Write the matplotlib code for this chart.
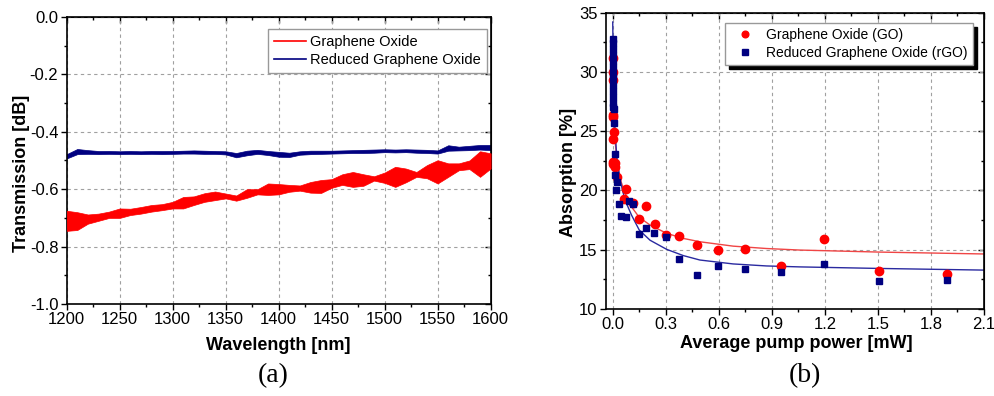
import numpy as np
import matplotlib.pyplot as plt
from matplotlib.ticker import MultipleLocator, FormatStrFormatter
from matplotlib.lines import Line2D

plt.rcParams['font.family'] = ['Liberation Sans', 'DejaVu Sans']

# ---- (a) transmission spectra, read every 10 nm as lower / upper edge of the noisy trace
wavelength = np.arange(1200, 1601, 10)
go_lo = [-0.745, -0.742, -0.720, -0.710, -0.700, -0.700, -0.690, -0.685, -0.678, -0.673,
         -0.667, -0.667, -0.655, -0.644, -0.638, -0.632, -0.640, -0.630, -0.618, -0.620,
         -0.618, -0.609, -0.605, -0.612, -0.613, -0.595, -0.585, -0.592, -0.588, -0.570,
         -0.578, -0.592, -0.576, -0.557, -0.562, -0.580, -0.557, -0.534, -0.530, -0.557,
         -0.528]
go_hi = [-0.675, -0.680, -0.688, -0.685, -0.678, -0.667, -0.668, -0.662, -0.655, -0.652,
         -0.644, -0.627, -0.625, -0.614, -0.608, -0.615, -0.622, -0.600, -0.600, -0.580,
         -0.582, -0.585, -0.587, -0.575, -0.568, -0.565, -0.548, -0.540, -0.548, -0.555,
         -0.542, -0.522, -0.528, -0.540, -0.516, -0.499, -0.510, -0.510, -0.500, -0.468,
         -0.475]
rgo_lo = [-0.493, -0.478, -0.477, -0.478, -0.477, -0.478, -0.477, -0.478, -0.477, -0.478,
          -0.477, -0.476, -0.476, -0.477, -0.477, -0.479, -0.489, -0.482, -0.477, -0.481,
          -0.487, -0.488, -0.480, -0.478, -0.477, -0.476, -0.475, -0.474, -0.474, -0.473,
          -0.471, -0.472, -0.471, -0.473, -0.474, -0.476, -0.466, -0.465, -0.464, -0.462,
          -0.464]
rgo_hi = [-0.478, -0.460, -0.464, -0.467, -0.467, -0.468, -0.467, -0.468, -0.467, -0.467,
          -0.467, -0.466, -0.465, -0.466, -0.467, -0.468, -0.474, -0.466, -0.463, -0.467,
          -0.470, -0.473, -0.468, -0.466, -0.466, -0.466, -0.465, -0.464, -0.463, -0.462,
          -0.461, -0.462, -0.461, -0.462, -0.463, -0.465, -0.447, -0.452, -0.449, -0.446,
          -0.446]

# ---- (b) absorption vs average pump power
go_power = [0.0, 0.0, 0.002, 0.002, 0.003, 0.0, 0.008, 0.0, 0.004, 0.013, 0.013, 0.026,
            0.062, 0.075, 0.116, 0.15, 0.188, 0.239, 0.301, 0.376, 0.475, 0.597, 0.751,
            0.949, 1.195, 1.506, 1.893]
go_abs = [31.2, 30.0, 29.3, 26.4, 26.2, 24.3, 24.9, 22.4, 22.2, 22.3, 22.0, 21.1,
          19.3, 20.1, 18.9, 17.56, 18.7, 17.2, 16.2, 16.15, 15.4, 14.97, 15.03,
          13.6, 15.9, 13.18, 12.95]
rgo_power = [0.0, 0.0, 0.0, 0.0, 0.0, 0.0, 0.0, 0.0, 0.002, 0.002, 0.002, 0.004, 0.004,
             0.006, 0.008, 0.013, 0.013, 0.019, 0.026, 0.038, 0.045, 0.075, 0.094, 0.116,
             0.15, 0.188, 0.235, 0.301, 0.376, 0.475, 0.597, 0.751, 0.949, 1.195, 1.506, 1.893]
rgo_abs = [32.8, 32.4, 31.9, 31.4, 30.9, 30.4, 29.9, 29.5, 28.9, 28.4, 27.9, 27.4, 27.0,
           26.9, 25.7, 23.07, 21.3, 20.0, 20.7, 18.85, 17.85, 17.73, 19.1, 18.85,
           16.32, 16.8, 16.43, 16.1, 14.2, 12.9, 13.62, 13.35, 13.12, 13.82, 12.36, 12.47]
fit_power = [0.0, 0.004, 0.008, 0.013, 0.023, 0.041, 0.069, 0.107, 0.15, 0.211, 0.305,
             0.4, 0.493, 0.681, 0.87, 1.058, 1.506, 2.1]
go_fit = [32.5, 28.5, 26.0, 24.3, 22.6, 21.0, 19.8, 18.6, 17.73, 17.08, 16.38,
          15.95, 15.67, 15.3, 15.1, 14.97, 14.8, 14.64]
rgo_fit = [34.2, 30.0, 27.3, 25.1, 22.8, 20.9, 19.2, 17.9, 16.66, 15.8, 15.03,
           14.5, 14.13, 13.8, 13.63, 13.55, 13.42, 13.28]

RED = '#ff0000'
NAVY = '#000080'


def style_axes(ax, xmaj, xmin, ymaj, ymin):
    ax.xaxis.set_major_locator(MultipleLocator(xmaj))
    ax.xaxis.set_minor_locator(MultipleLocator(xmin))
    ax.yaxis.set_major_locator(MultipleLocator(ymaj))
    ax.yaxis.set_minor_locator(MultipleLocator(ymin))
    ax.tick_params(which='both', direction='out', labelsize=12, pad=2)
    ax.tick_params(which='major', length=4, width=1)
    ax.tick_params(which='minor', length=2.5, width=1)
    ax.grid(True, which='major', color='#a0a0a0', linestyle=(0, (3, 3)), linewidth=0.8)
    for s in ax.spines.values():
        s.set_linewidth(1.2)
    # mirrored ticks pointing inwards on top and right
    top = ax.secondary_xaxis('top')
    top.xaxis.set_major_locator(MultipleLocator(xmaj))
    top.xaxis.set_minor_locator(MultipleLocator(xmin))
    top.tick_params(which='both', direction='in', labeltop=False, width=1)
    top.tick_params(which='major', length=4)
    top.tick_params(which='minor', length=2.5)
    right = ax.secondary_yaxis('right')
    right.yaxis.set_major_locator(MultipleLocator(ymaj))
    right.yaxis.set_minor_locator(MultipleLocator(ymin))
    right.tick_params(which='both', direction='in', labelright=False, width=1)
    right.tick_params(which='major', length=4)
    right.tick_params(which='minor', length=2.5)


fig = plt.figure(figsize=(9.95, 3.96), dpi=100)

# ---------------- (a)
ax1 = fig.add_axes([0.067, 0.232, 0.4261, 0.7255])
go_lo = np.array(go_lo)
go_hi = np.array(go_hi)
rgo_lo = np.array(rgo_lo)
rgo_hi = np.array(rgo_hi)
ax1.fill_between(wavelength, rgo_lo, rgo_hi, color=NAVY, lw=0.5, zorder=2)
ax1.plot(wavelength, (rgo_lo + rgo_hi) / 2, color=NAVY, lw=0.8, zorder=2)
ax1.fill_between(wavelength, go_lo, go_hi, color=RED, lw=0.5, zorder=3)
ax1.plot(wavelength, (go_lo + go_hi) / 2, color=RED, lw=0.8, zorder=3)
ax1.set_xlim(1200, 1600)
ax1.set_ylim(-1.0, 0.0)
style_axes(ax1, 50, 25, 0.2, 0.1)
ax1.yaxis.set_major_formatter(FormatStrFormatter('%.1f'))
ax1.set_xlabel('Wavelength [nm]', fontsize=13, fontweight='bold', va='center')
ax1.xaxis.set_label_coords(0.499, -0.143)
ax1.set_ylabel('Transmission [dB]', fontsize=13, fontweight='bold', va='center')
ax1.yaxis.set_label_coords(-0.106, 0.456)
h1 = [Line2D([], [], color=RED, lw=1.2), Line2D([], [], color=NAVY, lw=1.2)]
leg1 = ax1.legend(h1, ['Graphene Oxide', 'Reduced Graphene Oxide'],
                  loc='upper right', bbox_to_anchor=(0.9906, 0.956), borderaxespad=0,
                  fontsize=10.5, fancybox=False, framealpha=1, edgecolor='#999999',
                  borderpad=0.4, labelspacing=0.25, handlelength=2.2, handletextpad=0.3)
leg1.get_frame().set_linewidth(1)

# ---------------- (b)
ax2 = fig.add_axes([606 / 995, 0.2197, 378 / 995, 0.7487])
ax2.plot(fit_power, go_fit, color='#f04545', lw=1, zorder=2)
ax2.plot(fit_power, rgo_fit, color='#2a2aa0', lw=1, zorder=2)
ax2.plot(go_power, go_abs, 'o', color=RED, ms=6, mec=RED, zorder=3,
         label='Graphene Oxide (GO)')
ax2.plot(rgo_power, rgo_abs, 's', color=NAVY, ms=5, mec=NAVY, zorder=4,
         label='Reduced Graphene Oxide (rGO)')
ax2.set_xlim(-0.038, 2.1)
ax2.set_ylim(10, 35)
style_axes(ax2, 0.3, 0.15, 5, 2.5)
ax2.xaxis.set_major_formatter(FormatStrFormatter('%.1f'))
ax2.set_xlabel('Average pump power [mW]', fontsize=13, fontweight='bold', va='center')
ax2.xaxis.set_label_coords(0.504, -0.118)
ax2.set_ylabel('Absorption [%]', fontsize=13, fontweight='bold', va='center')
ax2.yaxis.set_label_coords(-0.098, 0.459)
leg2 = ax2.legend(loc='upper right', bbox_to_anchor=(0.970, 0.9656), borderaxespad=0,
                  fontsize=10, fancybox=False, framealpha=1, edgecolor='#999999',
                  borderpad=0.4, labelspacing=0.25, handlelength=2.0, handletextpad=0.5,
                  numpoints=1, markerscale=0.8,
                  shadow={'color': 'black', 'alpha': 1, 'ox': 3, 'oy': -3})
leg2.get_frame().set_linewidth(1)

fig.text(273 / 995, 1 - 376 / 396, '(a)', fontsize=20, family='Liberation Serif',
         ha='center', va='center')
fig.text(805 / 995, 1 - 376 / 396, '(b)', fontsize=20, family='Liberation Serif',
         ha='center', va='center')

fig.savefig('out.png', dpi=100)
